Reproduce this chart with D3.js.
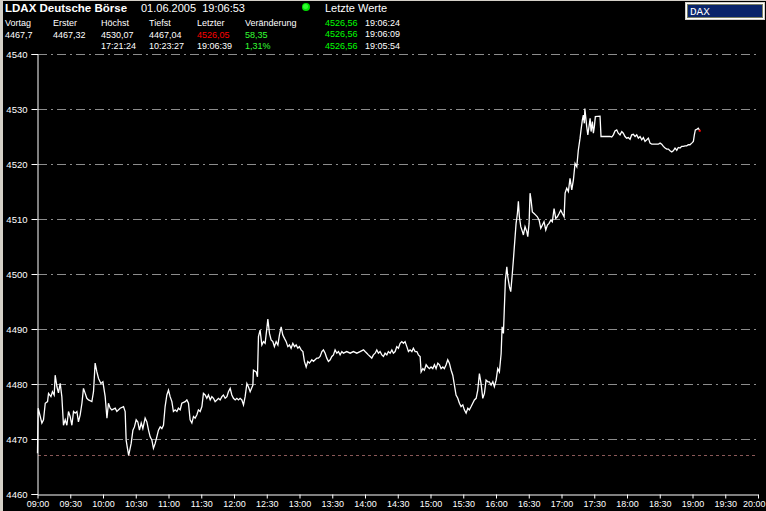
<!DOCTYPE html>
<html><head><meta charset="utf-8">
<script src="https://cdn.jsdelivr.net/npm/d3@7"></script>
<style>
html,body{margin:0;padding:0;background:#d4d0c8;overflow:hidden;}
svg{display:block;}
</style></head>
<body>
<svg id="chart" width="766" height="511"></svg>
<script>
// ---------- DATA ----------
const title = "LDAX Deutsche Börse";
const dateTime = "01.06.2005  19:06:53";
const lastValuesTitle = "Letzte Werte";
const headerLabels = ["Vortag", "Erster", "Höchst", "Tiefst", "Letzter", "Veränderung"];
const headerValues = ["4467,7", "4467,32", "4530,07", "4467,04", "4526,05", "58,35"];
const headerTimes  = ["", "", "17:21:24", "10:23:27", "19:06:39", "1,31%"];
const lastPrices = ["4526,56", "4526,56", "4526,56"];
const lastTimes  = ["19:06:24", "19:06:09", "19:05:54"];
const symbolBox = "DAX";
const lowValue = 4467.04;

const yTicks = [4460, 4470, 4480, 4490, 4500, 4510, 4520, 4530, 4540];
const xTickLabels = ["09:00","09:30","10:00","10:30","11:00","11:30","12:00","12:30","13:00","13:30","14:00","14:30","15:00","15:30","16:00","16:30","17:00","17:30","18:00","18:30","19:00","19:30","20:00"];

// minutes after 09:00
const times = [0,0.6,2.5,4.0,5.5,7.1,9.2,10.1,12.3,13.7,15.3,16.2,17.8,19.2,20.8,22.3,23.8,25.4,26.9,28.4,29.9,31.5,33.0,34.5,36.1,37.5,39.1,40.7,42.1,43.7,45.2,46.7,49.8,51.3,52.8,54.4,55.9,58.1,59.9,62.0,63.6,65.0,66.6,68.1,71.2,72.7,75.7,78.8,80.3,81.2,82.4,83.5,85.8,87.4,88.8,90.4,91.9,93.4,95.0,96.5,98.6,100.2,101.7,103.2,104.8,106.2,107.8,109.3,110.8,112.4,113.9,115.4,116.9,118.5,120.0,121.5,123.1,124.5,126.1,127.7,129.1,130.7,132.2,135.3,136.8,138.3,139.8,141.4,142.9,144.4,146.0,147.4,149.0,150.6,152.0,153.6,155.1,156.6,158.2,159.7,161.2,162.7,164.3,165.8,167.3,168.9,170.3,171.9,173.5,174.9,176.5,178.0,179.5,181.1,182.6,184.1,185.6,187.2,188.7,190.2,191.8,193.2,194.8,197.3,197.8,200.3,201.5,202.4,203.9,205.5,207.0,208.5,210.1,211.0,212.5,214.0,215.6,217.0,218.6,220.2,221.6,223.2,224.7,226.2,227.8,229.3,230.8,232.3,233.9,235.4,236.9,238.5,239.9,241.5,243.1,244.5,246.1,247.6,249.1,251.3,252.8,254.3,255.9,257.3,258.9,260.5,261.9,263.5,265.0,266.5,268.1,269.6,271.1,272.6,274.2,275.7,277.2,278.8,280.2,283.3,286.4,289.4,292.5,295.5,298.6,300.1,301.7,303.1,304.7,306.2,307.7,309.3,310.8,312.3,313.8,315.4,316.9,318.4,320.0,321.4,323.0,324.6,326.0,327.6,329.1,330.6,332.2,333.7,335.2,336.7,338.3,339.8,341.3,342.9,344.3,345.9,347.5,348.9,350.5,351.4,353.0,354.4,356.0,357.5,359.0,360.5,362.1,363.6,365.1,366.7,368.2,369.7,371.3,372.7,374.3,375.8,377.3,378.9,380.4,381.9,383.4,385.0,386.5,388.0,389.6,391.0,392.6,394.2,395.6,397.2,398.7,400.2,401.8,403.3,404.8,406.3,407.9,409.4,410.9,412.5,413.9,415.5,417.1,418.5,420.1,421.6,423.1,424.7,425.6,426.8,427.7,428.6,429.9,430.8,432.3,433.5,434.7,435.9,436.6,437.5,438.4,439.6,440.5,441.4,442.7,444.2,445.1,446.6,448.2,449.1,450.3,451.2,452.1,453.3,454.9,456.4,457.9,459.5,461.0,462.5,464.0,465.6,467.1,468.6,470.2,471.6,473.2,474.7,476.2,477.8,479.3,480.8,482.4,483.3,484.8,486.3,487.8,489.4,490.9,492.4,494.0,495.4,497.0,497.9,499.1,500.0,500.9,501.4,503.1,504.1,505.2,506.2,507.1,508.3,509.2,510.1,511.0,515.3,516.2,524.5,526.0,527.5,529.0,530.6,532.0,533.6,535.2,536.6,538.2,539.7,541.2,542.8,544.3,545.8,547.4,548.9,550.4,552.0,553.5,555.0,556.5,558.1,559.6,561.1,562.7,565.7,568.7,570.3,571.8,573.3,574.9,576.4,577.9,579.4,581.0,582.4,584.0,585.6,587.0,588.6,590.1,591.6,593.2,594.7,596.2,597.7,599.3,600.8,601.7,602.6,603.9,605.3,606.65];
const values = [4467.4,4475.6,4474.1,4472.9,4473.5,4476.5,4476.8,4478.3,4477.7,4478.6,4478.0,4481.6,4479.5,4478.4,4480.1,4477.7,4472.5,4473.5,4472.5,4475.0,4474.1,4472.5,4475.0,4474.7,4475.0,4473.1,4474.4,4476.5,4479.2,4478.3,4477.4,4477.1,4476.8,4478.6,4483.8,4482.2,4481.0,4480.1,4480.4,4477.7,4473.8,4476.5,4475.6,4475.3,4475.6,4475.0,4475.6,4475.9,4475.0,4469.8,4468.3,4467.04,4469.2,4471.6,4472.2,4473.5,4473.1,4471.6,4472.9,4471.9,4473.8,4473.1,4471.6,4470.4,4469.8,4468.3,4469.2,4470.4,4471.6,4472.2,4471.9,4472.5,4475.9,4478.0,4478.9,4477.7,4476.8,4475.0,4475.3,4475.0,4475.6,4475.3,4476.5,4476.8,4477.1,4476.5,4473.5,4472.9,4474.1,4473.8,4474.4,4475.3,4475.0,4475.9,4478.3,4478.0,4477.4,4478.0,4477.1,4477.7,4477.4,4476.8,4477.1,4477.4,4477.1,4477.7,4478.0,4477.4,4477.7,4478.6,4479.2,4478.0,4477.4,4477.1,4477.4,4477.1,4477.4,4477.1,4476.2,4477.7,4480.1,4479.5,4478.6,4479.8,4482.5,4482.2,4481.3,4488.6,4489.8,4487.1,4487.7,4487.4,4490.1,4491.8,4489.2,4488.0,4487.7,4486.8,4487.7,4487.1,4488.9,4490.4,4488.9,4488.3,4487.7,4486.8,4487.1,4486.5,4487.4,4486.8,4487.1,4486.5,4486.8,4486.2,4485.9,4484.1,4483.1,4484.1,4483.8,4484.4,4484.1,4484.4,4484.7,4484.7,4485.0,4485.9,4486.2,4485.6,4484.7,4484.1,4484.4,4485.0,4485.3,4486.2,4485.6,4485.9,4485.3,4485.9,4485.6,4485.9,4485.6,4485.9,4485.6,4485.9,4486.2,4485.9,4485.6,4485.3,4485.0,4484.7,4485.3,4485.6,4486.2,4485.6,4485.9,4485.3,4485.0,4485.6,4485.3,4485.9,4485.6,4486.2,4485.6,4485.9,4486.8,4486.5,4487.4,4487.7,4487.4,4487.7,4486.8,4485.9,4486.2,4485.9,4486.5,4485.9,4485.9,4485.3,4485.0,4482.2,4482.8,4482.5,4483.5,4483.1,4482.8,4483.1,4482.8,4483.5,4482.8,4483.8,4483.5,4482.8,4483.1,4482.8,4483.5,4484.4,4483.8,4482.5,4481.6,4479.8,4478.0,4477.4,4476.5,4475.9,4476.2,4475.3,4474.7,4475.6,4475.3,4475.9,4476.5,4477.1,4477.4,4478.9,4481.9,4480.1,4477.4,4478.3,4480.7,4480.4,4480.4,4479.8,4480.4,4479.5,4480.7,4482.8,4482.2,4485.5,4490.4,4489.2,4494.1,4498.9,4501.3,4499.5,4497.7,4496.8,4499.5,4502.5,4504.4,4506.8,4509.2,4511.0,4513.2,4510.4,4508.6,4507.7,4507.1,4508.6,4507.7,4506.8,4509.2,4514.7,4513.5,4511.3,4511.0,4510.7,4510.4,4509.8,4508.3,4508.9,4509.5,4508.0,4508.9,4509.2,4509.8,4509.5,4511.9,4510.1,4510.4,4511.0,4511.6,4511.0,4510.4,4514.7,4515.6,4515.0,4517.4,4515.3,4517.1,4520.1,4519.5,4522.5,4524.7,4526.2,4528.0,4528.9,4527.4,4530.07,4526.8,4525.3,4526.8,4528.3,4525.9,4527.7,4525.6,4526.8,4528.6,4528.7,4525.0,4525.0,4524.9,4525.3,4526.0,4526.2,4525.6,4525.3,4525.9,4525.6,4525.0,4524.7,4524.8,4524.5,4525.3,4525.4,4525.0,4525.3,4524.7,4525.0,4524.4,4524.8,4524.1,4524.4,4524.7,4523.8,4523.6,4523.6,4523.6,4523.8,4523.6,4523.2,4522.9,4522.7,4522.7,4522.4,4522.2,4522.4,4522.9,4522.5,4523.0,4522.9,4523.2,4523.2,4523.3,4523.3,4523.5,4523.5,4523.8,4524.1,4525.3,4526.2,4526.3,4526.5,4526.05];

// ---------- DRAW ----------
const svg = d3.select("#chart");
const W = 766, H = 511;

svg.append("rect").attr("x", 3).attr("y", 1).attr("width", W - 3).attr("height", H - 1).attr("fill", "#000");

const x = d3.scaleLinear().domain([0, 660]).range([37.5, 758]);
const y = d3.scaleLinear().domain([4460, 4540]).range([494, 54]);

const font = "'Liberation Sans', Arial, sans-serif";

// header
svg.append("text").attr("x", 5).attr("y", 12).attr("fill", "#fff")
  .attr("font-family", font).attr("font-weight", "bold").attr("font-size", 11.5).text(title);
svg.append("text").attr("x", 141).attr("y", 12).attr("fill", "#fff")
  .attr("font-family", font).attr("font-size", 11).attr("xml:space", "preserve")
  .style("white-space", "pre").text(dateTime);
svg.append("circle").attr("cx", 306).attr("cy", 7).attr("r", 4).attr("fill", "#00e000");
svg.append("circle").attr("cx", 305.5).attr("cy", 6.5).attr("r", 2.5).attr("fill", "#30ff30");
svg.append("text").attr("x", 325).attr("y", 12).attr("fill", "#fff")
  .attr("font-family", font).attr("font-size", 11).text(lastValuesTitle);

const colX = [5, 53, 101, 149, 197, 245];
const small = 9;
headerLabels.forEach((t, i) => {
  svg.append("text").attr("x", colX[i]).attr("y", 26).attr("fill", "#fff")
    .attr("font-family", font).attr("font-size", small).text(t);
});
headerValues.forEach((t, i) => {
  const c = i === 4 ? "#ff0000" : (i === 5 ? "#33ff33" : "#fff");
  svg.append("text").attr("x", colX[i]).attr("y", 37.5).attr("fill", c)
    .attr("font-family", font).attr("font-size", small).text(t);
});
headerTimes.forEach((t, i) => {
  if (!t) return;
  const c = i === 5 ? "#33ff33" : "#fff";
  svg.append("text").attr("x", colX[i]).attr("y", 48.7).attr("fill", c)
    .attr("font-family", font).attr("font-size", small).text(t);
});
lastPrices.forEach((t, i) => {
  svg.append("text").attr("x", 325).attr("y", 26 + i * 11.3).attr("fill", "#00ff00")
    .attr("font-family", font).attr("font-size", small).text(t);
  svg.append("text").attr("x", 365).attr("y", 26 + i * 11.3).attr("fill", "#fff")
    .attr("font-family", font).attr("font-size", small).text(lastTimes[i]);
});

// DAX box
svg.append("rect").attr("x", 685).attr("y", 2).attr("width", 80).attr("height", 18).attr("fill", "#d4d0c8");
svg.append("rect").attr("x", 686).attr("y", 3).attr("width", 78).attr("height", 16).attr("fill", "#fff");
svg.append("rect").attr("x", 687).attr("y", 4).attr("width", 76).attr("height", 14).attr("fill", "#0a246a");
svg.append("rect").attr("x", 687.5).attr("y", 4.5).attr("width", 75).attr("height", 13).attr("fill", "none")
  .attr("stroke", "#e8d860").attr("stroke-width", 1).attr("stroke-dasharray", "1,1");
svg.append("text").attr("x", 690).attr("y", 15).attr("fill", "#fff")
  .attr("font-family", "'Liberation Mono', 'DejaVu Sans Mono', monospace").attr("font-size", 11).text(symbolBox);

// gridlines
svg.append("g").selectAll("line").data(yTicks.filter(d => d > 4460)).join("line")
  .attr("x1", 38).attr("x2", 758)
  .attr("y1", d => Math.round(y(d)) + 0.5).attr("y2", d => Math.round(y(d)) + 0.5)
  .attr("stroke", "#8c8c8c").attr("stroke-width", 1).attr("stroke-dasharray", "9,4,2,4");

// low line
svg.append("line").attr("x1", 38).attr("x2", 758)
  .attr("y1", Math.round(y(lowValue)) + 0.5).attr("y2", Math.round(y(lowValue)) + 0.5)
  .attr("stroke", "#8a5858").attr("stroke-width", 1).attr("stroke-dasharray", "3,3");

// axes
const yAxis = d3.axisLeft(y).tickValues(yTicks).tickSize(6).tickPadding(4).tickFormat(d3.format("d"));
const gy = svg.append("g").attr("transform", "translate(37.5,0)").call(yAxis);
gy.select(".domain").attr("stroke", "#fff");
gy.selectAll(".tick line").attr("stroke", "#fff");
gy.selectAll("text").attr("fill", "#fff").attr("font-family", font).attr("font-size", 9.5);

const xTickVals = xTickLabels.map((_, i) => i * 30);
const xAxis = d3.axisBottom(x).tickValues(xTickVals).tickSize(4).tickPadding(2).tickSizeOuter(0)
  .tickFormat((d, i) => xTickLabels[i]);
const gx = svg.append("g").attr("transform", "translate(0,494.5)").call(xAxis);
gx.select(".domain").attr("stroke", "#fff");
gx.selectAll(".tick line").attr("stroke", "#fff");
gx.selectAll("text").attr("fill", "#fff").attr("font-family", font).attr("font-size", 9);
// keep the last label inside the window
gx.selectAll(".tick text").filter((d, i) => i === xTickLabels.length - 1)
  .attr("text-anchor", "end").attr("dx", "7");

// price line
const pts = times.map((t, i) => [t, values[i]]);
svg.append("path").datum(pts)
  .attr("fill", "none").attr("stroke", "#fff").attr("stroke-width", 1.3)
  .attr("stroke-linejoin", "miter")
  .attr("d", d3.line().x(d => x(d[0])).y(d => y(d[1])));

// last point marker
const last = pts[pts.length - 1];
svg.append("rect").attr("x", x(last[0]) - 1).attr("y", y(last[1]) - 1).attr("width", 2).attr("height", 2).attr("fill", "#ff0000");
</script>
</body></html>
